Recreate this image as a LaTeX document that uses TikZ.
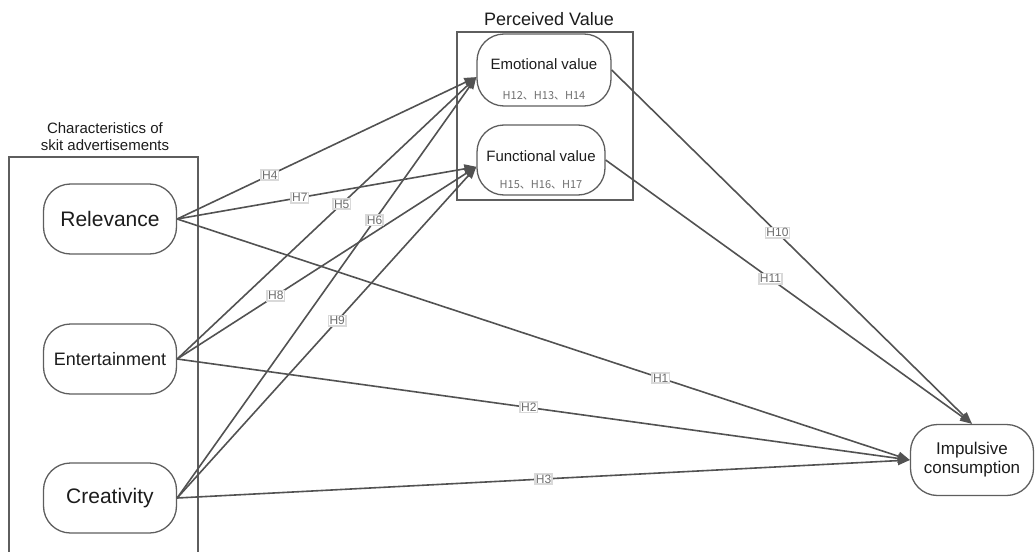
\documentclass[tikz,border=0pt]{standalone}
\usepackage{fontspec}
\setmainfont{Liberation Sans}
\newfontfamily\cjk{Noto Sans CJK SC}
\usetikzlibrary{arrows.meta, positioning}

\definecolor{linkgray}{HTML}{525252}
\definecolor{boxgray}{HTML}{5E5E5E}
\definecolor{labgray}{HTML}{6E6E6E}
\definecolor{txt}{HTML}{1C1C1C}

\tikzset{
    factor/.style={draw=boxgray, line width=1.3pt, rounded corners=27pt,
        minimum width=133pt, minimum height=70pt, text=txt},
    valbox/.style={draw=boxgray, line width=1.3pt, rounded corners=27pt,
        minimum height=72pt, text=txt},
    group/.style={draw=boxgray, line width=1.3pt},
    link/.style={draw=linkgray, line width=1.6pt, -{Triangle[length=12pt,width=9pt]}},
    hlab/.style={fill=white, draw=gray!30, inner sep=1pt, text=labgray,
        font=\fontsize{12}{13}\selectfont},
    sublab/.style={text=labgray, font=\cjk\fontsize{11}{12}\selectfont},
}

\begin{document}
\begin{tikzpicture}[x=1pt, y=-1pt]
    \useasboundingbox (0,0) rectangle (1035,551);

    % Group frames and their titles
    \draw[group] (9,157) rectangle (198,565);
    \node[text=txt, align=center, font=\fontsize{15}{17}\selectfont] (chartitle) at (105,137)
        {Characteristics of\\skit advertisements};
    \draw[group] (457,32) rectangle (633,200);
    \node[text=txt, font=\fontsize{18}{20}\selectfont] (pvtitle) at (549,19) {Perceived Value};

    % Ad characteristics
    \node[factor, font=\fontsize{21}{24}\selectfont] (rel) at (110,219) {Relevance};
    \node[factor, font=\fontsize{18}{20}\selectfont] (ent) at (110,359) {Entertainment};
    \node[factor, font=\fontsize{21}{24}\selectfont] (cre) at (110,498) {Creativity};

    % Perceived value
    \node[valbox, minimum width=134pt] (emo) at (544,70) {};
    \node[text=txt, font=\fontsize{15}{17}\selectfont] (emotext) at (544,64) {Emotional value};
    \node[sublab] (emohyp) at (544,96) {H12、H13、H14};
    \node[valbox, minimum width=128pt, minimum height=70pt] (fun) at (541,160) {};
    \node[text=txt, font=\fontsize{15}{17}\selectfont] (funtext) at (541,156) {Functional value};
    \node[sublab] (funhyp) at (541,185) {H15、H16、H17};

    % Outcome
    \node[factor, minimum width=123pt, minimum height=71pt, align=center,
        font=\fontsize{17}{19}\selectfont] (imp) at (972,460) {Impulsive\\consumption};

    % Hypothesised paths
    \foreach \s/\t/\p/\h in {rel/emo.186/0.31/H4, rel/fun.186/0.41/H7, rel/imp.west/0.66/H1,
        ent/emo.186/0.55/H5, ent/fun.186/0.33/H8, ent/imp.west/0.48/H2,
        cre/emo.186/0.66/H6, cre/fun.186/0.535/H9, cre/imp.west/0.5/H3} {
        \draw[link] (\s.east) -- node[hlab, pos=\p] {\h} (\t);
    }
    \draw[link] (emo.east) -- node[hlab, pos=0.46] {H10} (imp.north);
    \draw[link] (fun.east) -- node[hlab, pos=0.45] {H11} (imp.north);
\end{tikzpicture}
\end{document}
